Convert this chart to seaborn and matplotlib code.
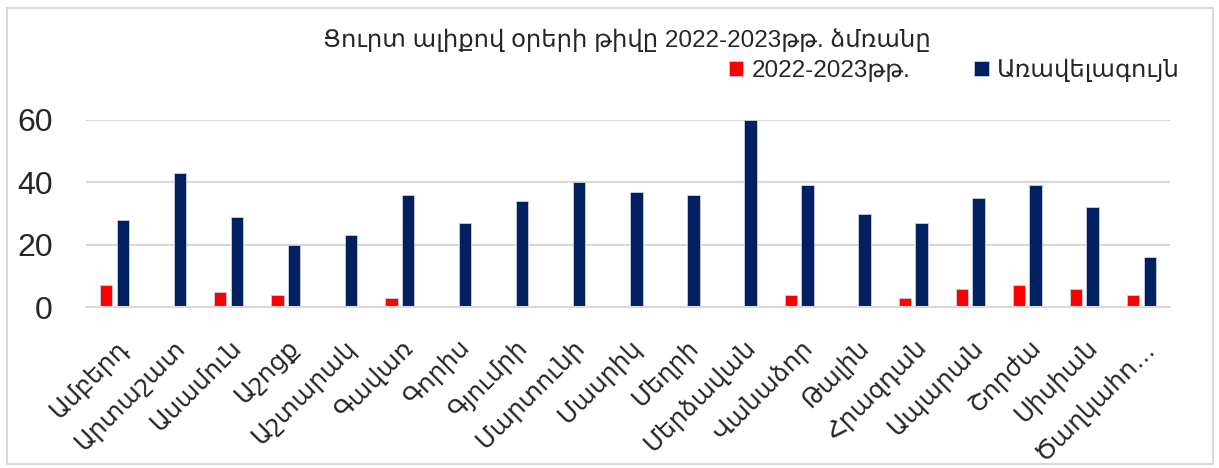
import matplotlib.pyplot as plt
import pandas as pd
import seaborn as sns
from matplotlib.patches import Rectangle
from matplotlib.transforms import ScaledTranslation

stations = [
	"Ամբերդ", "Արտաշատ", "Ասամուն", "Աշոցք", "Աշտարակ", "Գավառ", "Գորիս",
	"Գյումրի", "Մարտունի", "Մասրիկ", "Մեղրի", "Մերձավան", "Վանաձոր", "Թալին",
	"Հրազդան", "Ապարան", "Շորժա", "Սիսիան", "Ծաղկահո…",
]
days_2022_2023 = [7, 0, 5, 4, 0, 3, 0, 0, 0, 0, 0, 0, 4, 0, 3, 6, 7, 6, 4]
days_max = [28, 43, 29, 20, 23, 36, 27, 34, 40, 37, 36, 60, 39, 30, 27, 35, 39, 32, 16]
series_names = ["2022-2023թթ.", "Առավելագույն"]
title = "Ցուրտ ալիքով օրերի թիվը 2022-2023թթ. ձմռանը"

sns.set_theme(style="white")
plt.rcParams["font.family"] = ["Liberation Sans", "DejaVu Sans"]

df = pd.DataFrame({
	"station": stations * 2,
	"days": days_2022_2023 + days_max,
	"series": [series_names[0]] * len(stations) + [series_names[1]] * len(stations),
})

fig = plt.figure(figsize=(12.19, 4.68), dpi=100)
ax = fig.add_axes([0.0705, 0.3434, 0.8893, 0.4008])

sns.barplot(
	data=df,
	x="station",
	y="days",
	hue="series",
	hue_order=series_names,
	palette={series_names[0]: "#FF0000", series_names[1]: "#002060"},
	saturation=1,
	width=0.584,
	gap=0.25,
	edgecolor="#C9D0E4",
	linewidth=0.6,
	ax=ax,
	legend=True,
)

ax.set_ylim(0, 60)
ax.set_xlim(-0.5, len(stations) - 0.5)
ax.set_yticks([0, 20, 40, 60])
ax.yaxis.grid(True, color="#D9D9D9", linewidth=1.5)
ax.set_axisbelow(True)
for side in ["top", "right", "left"]:
	ax.spines[side].set_visible(False)
ax.spines["bottom"].set_color("#D9D9D9")
ax.spines["bottom"].set_linewidth(1.5)
ax.tick_params(axis="y", labelsize=23, length=0, pad=24)
ax.tick_params(axis="x", length=0, pad=20)
ax.set_xticks(range(len(stations)))
ax.set_xticklabels(stations, rotation=45, ha="right", rotation_mode="anchor", fontsize=18)
shift = ScaledTranslation(1 / 72, 0, fig.dpi_scale_trans)
for lbl in ax.get_xticklabels():
	lbl.set_transform(lbl.get_transform() + shift)
ax.set_xlabel("")
ax.set_ylabel("")

handles, labels = ax.get_legend_handles_labels()
ax.get_legend().remove()
fig.legend(
	handles, labels,
	loc="center", bbox_to_anchor=(0.783, 0.850), ncol=2, frameon=False,
	fontsize=17.5, handlelength=0.6, handleheight=0.6, handletextpad=0.35,
	columnspacing=2.6,
)

fig.text(0.514, 0.915, title, ha="center", va="center", fontsize=17.5)

fig.patches.append(Rectangle(
	(7 / 1219, 4 / 468), 1206 / 1219, 456 / 468,
	transform=fig.transFigure, fill=False, edgecolor="#D9D9D9", linewidth=1.5,
))

fig.savefig("out.png", dpi=100)
